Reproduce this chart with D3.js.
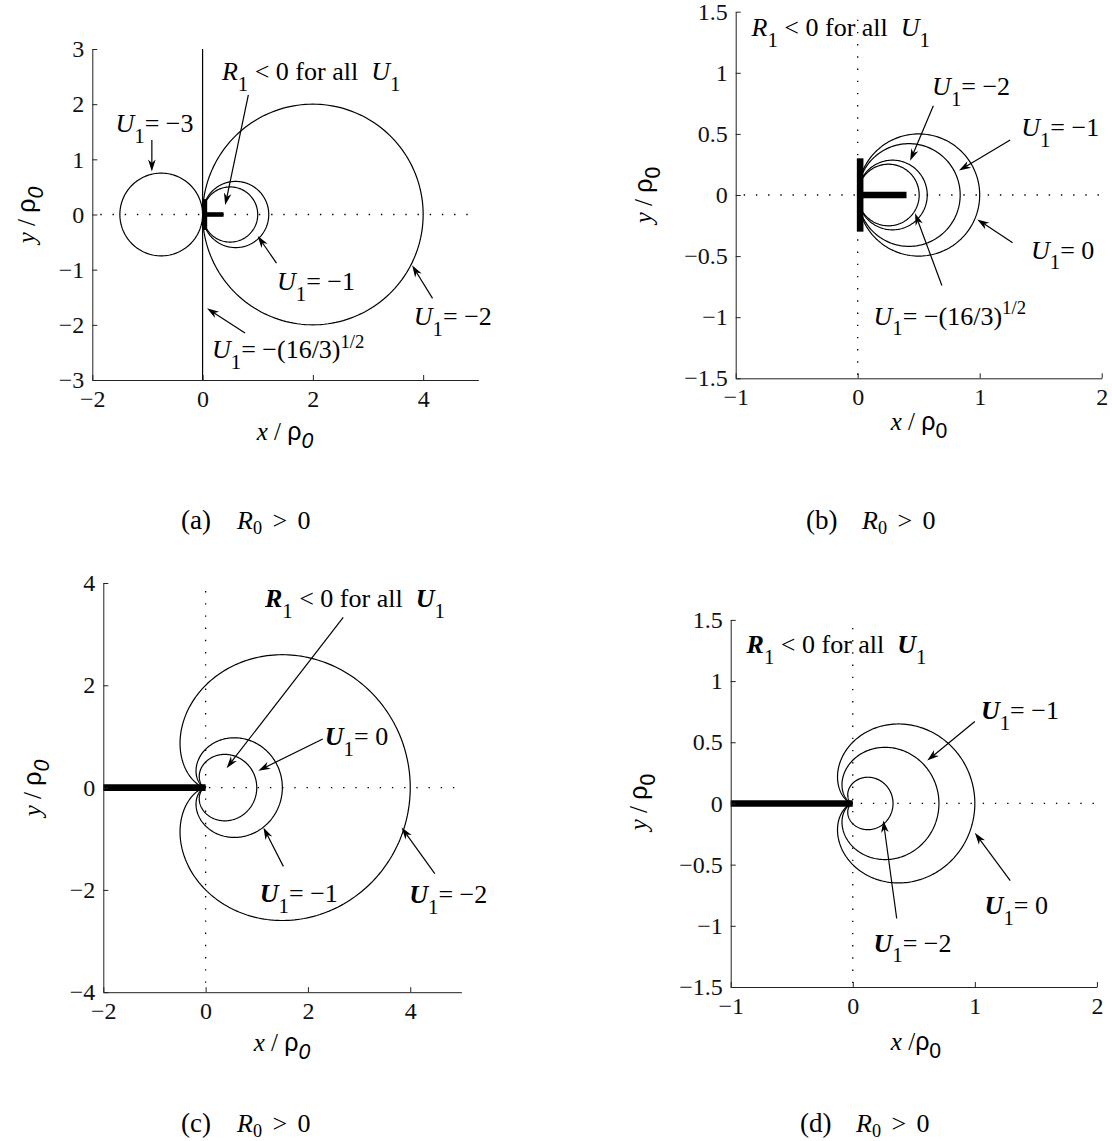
<!DOCTYPE html>
<html><head><meta charset="utf-8">
<script src="https://cdn.jsdelivr.net/npm/d3@7"></script>
<style>body{margin:0;background:#fff} svg{display:block} text{font-family:"Liberation Serif","Times New Roman",serif}</style>
</head><body>
<svg id="fig" width="1112" height="1141"></svg>
<script>
// ---------- panel (a): level curves are circles tangent to the y axis ----------
const aXTicks = [-2, 0, 2, 4];
const aYTicks = [-3, -2, -1, 0, 1, 2, 3];
const aCircleCenter = [-0.75, 2, 0.6, 0.5];   // U1 = -3, -2, -1, and the R1 < 0 boundary
const aCircleRadius = [0.75, 2, 0.6, 0.5];
const aLineX = [0];                            // U1 = -(16/3)^(1/2): the circle opens into x = 0
const aStemX = [0.04, 0.04], aStemY = [-0.28, 0.28];
const aBarX = [0, 0.38], aBarY = [0, 0];

// ---------- panel (b) ----------
const bXTicks = [-1, 0, 1, 2];
const bYTicks = [-1.5, -1, -0.5, 0, 0.5, 1, 1.5];
const bCircleCenter = [0.5, 0.42, 0.285, 0.252];  // U1 = 0, -1, -2, -(16/3)^(1/2)
const bCircleRadius = [0.5, 0.42, 0.285, 0.252];
const bStemX = [0.02, 0.02], bStemY = [-0.3, 0.3];
const bBarX = [0, 0.4], bBarY = [0, 0];

// ---------- panel (c): cardioids r = a(1 + cos t) ----------
const cXTicks = [-2, 0, 2, 4];
const cYTicks = [-4, -2, 0, 2, 4];
const cCardioidSize = [0.5, 0.75, 2];         // U1 = 0, -1, -2
const cCutX = [-2, 0], cCutY = [0, 0];

// ---------- panel (d) ----------
const dXTicks = [-1, 0, 1, 2];
const dYTicks = [-1.5, -1, -0.5, 0, 0.5, 1, 1.5];
const dCardioidSize = [0.5, 0.353, 0.165];    // U1 = 0, -1, -2
const dCutX = [-1, 0], dCutY = [0, 0];

const SERIF = '"Liberation Serif","Times New Roman",serif';
const SANS = '"Liberation Sans",Arial,sans-serif';
const svg = d3.select("#fig");
const fmt = d => (d < 0 ? "\u2212" + Math.abs(d) : String(d));
const TICK = 24, ANN = 26, LAB = 25;

function makePanel(xDom, xPix, yDom, yPix) {
  const x = d3.scaleLinear().domain(xDom).range(xPix);
  const y = d3.scaleLinear().domain(yDom).range(yPix);
  return { x, y, g: svg.append("g") };
}

function axes(p, xt, yt) {
  const ax = p.g.append("g").attr("transform", `translate(0,${p.y.range()[0]})`)
    .call(d3.axisBottom(p.x).tickValues(xt).tickFormat(fmt).tickSizeInner(-5).tickSizeOuter(0).tickPadding(10));
  const ay = p.g.append("g").attr("transform", `translate(${p.x.range()[0]},0)`)
    .call(d3.axisLeft(p.y).tickValues(yt).tickFormat(fmt).tickSizeInner(-5).tickSizeOuter(0).tickPadding(8));
  [ax, ay].forEach(a => {
    a.attr("font-family", null).attr("font-size", null);
    a.selectAll("path,line").attr("stroke", "#222").attr("stroke-width", 1);
    a.selectAll("text").style("font-family", SERIF).style("font-size", TICK + "px").attr("fill", "#111");
  });
}

// text built from pieces: kinds are space separated flags
// i = italic, b = bold, g = sans (greek), sub / sup = lowered / raised and smaller
function rich(g, px, py, parts, size, opts = {}) {
  const t = g.append("text").attr("x", px).attr("y", py)
    .style("font-family", SERIF).style("font-size", size + "px").attr("fill", "#000")
    .style("white-space", "pre").attr("text-anchor", opts.anchor || "start");
  if (opts.rotate) t.attr("transform", `rotate(${opts.rotate},${px},${py})`);
  let shift = 0;
  parts.forEach(([s, kind]) => {
    const k = kind.split(" ");
    const sp = t.append("tspan").text(s);
    let target = 0, fs = size;
    if (k.includes("sub")) { target = (opts.subShift || 0.42) * size; fs = (opts.subScale || 0.8) * size; }
    if (k.includes("sup")) { target = -0.42 * size; fs = 0.72 * size; }
    sp.style("font-style", k.includes("i") ? "italic" : "normal");
    sp.style("font-weight", k.includes("b") ? "bold" : "normal");
    if (k.includes("g")) sp.style("font-family", SANS);
    sp.attr("dy", target - shift).style("font-size", fs + "px");
    shift = target;
  });
  return t;
}

function arrow(p, x1, y1, x2, y2) {
  const X1 = p.x(x1), Y1 = p.y(y1), X2 = p.x(x2), Y2 = p.y(y2);
  const ang = Math.atan2(Y2 - Y1, X2 - X1);
  const L = 12, W = 3.8, N = 8.5;
  const c = Math.cos(ang), s = Math.sin(ang);
  p.g.append("line").attr("x1", X1).attr("y1", Y1)
    .attr("x2", X2 - N * c).attr("y2", Y2 - N * s)
    .attr("stroke", "#000").attr("stroke-width", 1.2);
  const pts = [
    [X2, Y2],
    [X2 - L * c - W * s, Y2 - L * s + W * c],
    [X2 - N * c, Y2 - N * s],
    [X2 - L * c + W * s, Y2 - L * s - W * c]
  ];
  p.g.append("path").attr("d", "M" + pts.map(q => q.join(",")).join("L") + "Z").attr("fill", "#000");
}

function dotted(p, xs, ys) {
  p.g.append("line").attr("x1", p.x(xs[0])).attr("x2", p.x(xs[1]))
    .attr("y1", p.y(ys[0])).attr("y2", p.y(ys[1]))
    .attr("stroke", "#000").attr("stroke-width", 1.3).attr("stroke-dasharray", "1.4 10.8")
    .attr("stroke-dashoffset", -8);
}

function circles(p, centers, radii) {
  const line = d3.line().x(d => p.x(d[0])).y(d => p.y(d[1]));
  centers.forEach((cx, i) => {
    const r = radii[i];
    const pts = d3.range(0, 361, 2).map(deg => {
      const t = deg * Math.PI / 180;
      return [cx + r * Math.cos(t), r * Math.sin(t)];
    });
    p.g.append("path").attr("d", line(pts)).attr("fill", "none")
      .attr("stroke", "#000").attr("stroke-width", 1.2);
  });
}

function cardioids(p, sizes) {
  const line = d3.line().x(d => p.x(d[0])).y(d => p.y(d[1]));
  sizes.forEach(a => {
    const pts = d3.range(0, 360.5, 1).map(deg => {
      const t = deg * Math.PI / 180, r = a * (1 + Math.cos(t));
      return [r * Math.cos(t), r * Math.sin(t)];
    });
    p.g.append("path").attr("d", line(pts)).attr("fill", "none")
      .attr("stroke", "#000").attr("stroke-width", 1.2);
  });
}

function thick(p, xs, ys, w) {
  p.g.append("line").attr("x1", p.x(xs[0])).attr("x2", p.x(xs[1]))
    .attr("y1", p.y(ys[0])).attr("y2", p.y(ys[1]))
    .attr("stroke", "#000").attr("stroke-width", w);
}

const R1 = b => [["R", b ? "i b" : "i"], ["1", "sub"], [" < 0 for all  ", "n"], ["U", b ? "i b" : "i"], ["1", "sub"]];
const U = (v, b) => [["U", b ? "i b" : "i"], ["1", "sub"], ["= " + v, "n"]];
const Uroot = [["U", "i"], ["1", "sub"], ["= \u2212(16/3)", "n"], ["1/2", "sup"]];
const yLab = it => [["y", "i"], [" / ", "n"], ["\u03c1", "g"], ["0", it ? "g sub i" : "g sub"]];
const xLab = (it, sp) => [["x", "i"], [sp ? " / " : " /", "n"], ["\u03c1", "g"], ["0", it ? "g sub i" : "g sub"]];
const labOpts = { anchor: "middle", subShift: 0.3, subScale: 0.85 };

// ===== (a) =====
const A = makePanel([-2, 5], [92.3, 478.3], [-3, 3], [380, 49]);
dotted(A, [-2, 5], [0, 0]);
A.g.append("line").attr("x1", A.x(aLineX[0])).attr("x2", A.x(aLineX[0]))
  .attr("y1", A.y(-3)).attr("y2", A.y(3)).attr("stroke", "#000").attr("stroke-width", 1.2);
circles(A, aCircleCenter, aCircleRadius);
thick(A, aStemX, aStemY, 4.8);
thick(A, aBarX, aBarY, 4.6);
axes(A, aXTicks, aYTicks);
rich(A.g, A.x(0.35), A.y(2.44), R1(false), ANN);
arrow(A, 0.83, 2.17, 0.41, 0.17);
rich(A.g, A.x(-1.58), A.y(1.5), U("\u22123"), ANN);
arrow(A, -0.92, 1.35, -0.92, 0.78);
rich(A.g, A.x(1.35), A.y(-1.37), U("\u22121"), ANN);
arrow(A, 1.34, -0.88, 1.0, -0.39);
rich(A.g, A.x(3.83), A.y(-2.0), U("\u22122"), ANN);
arrow(A, 4.17, -1.52, 3.8, -0.92);
rich(A.g, A.x(0.17), A.y(-2.61), Uroot, ANN);
arrow(A, 0.77, -2.15, 0.08, -1.7);
rich(A.g, 35, 215, yLab(true), LAB, { ...labOpts, rotate: -90 });
rich(A.g, 285, 440, xLab(true, true), LAB, labOpts);

// ===== (b) =====
const B = makePanel([-1, 2], [735.7, 1101.7], [-1.5, 1.5], [378.3, 11.7]);
dotted(B, [-1, 2], [0, 0]);
dotted(B, [0, 0], [1.5, -1.5]);
circles(B, bCircleCenter, bCircleRadius);
thick(B, bStemX, bStemY, 6.6);
thick(B, bBarX, bBarY, 6.6);
axes(B, bXTicks, bYTicks);
rich(B.g, B.x(-0.87), B.y(1.3), R1(false), ANN);
rich(B.g, B.x(0.61), B.y(0.82), U("\u22122"), ANN);
arrow(B, 0.62, 0.73, 0.43, 0.28);
rich(B.g, B.x(1.34), B.y(0.48), U("\u22121"), ANN);
arrow(B, 1.25, 0.45, 0.83, 0.2);
rich(B.g, B.x(1.42), B.y(-0.52), U("0"), ANN);
arrow(B, 1.27, -0.39, 0.98, -0.2);
rich(B.g, B.x(0.13), B.y(-1.06), Uroot, ANN);
arrow(B, 0.69, -0.74, 0.47, -0.15);
rich(B.g, 652, 195, yLab(false), LAB, { ...labOpts, rotate: -90 });
rich(B.g, 919, 430, xLab(false, true), LAB, labOpts);

// ===== (c) =====
const C = makePanel([-2, 5], [103.3, 461.4], [-4, 4], [992.2, 583]);
dotted(C, [-2, 5], [0, 0]);
dotted(C, [0, 0], [4, -4]);
cardioids(C, cCardioidSize);
thick(C, cCutX, cCutY, 6.6);
axes(C, cXTicks, cYTicks);
rich(C.g, C.x(1.16), C.y(3.53), R1(true), ANN);
arrow(C, 2.69, 3.33, 0.41, 0.38);
rich(C.g, C.x(2.33), C.y(0.83), U("0", true), ANN);
arrow(C, 2.29, 0.95, 1.03, 0.33);
rich(C.g, C.x(1.06), C.y(-2.23), U("\u22121", true), ANN);
arrow(C, 1.52, -1.54, 1.13, -0.78);
rich(C.g, C.x(3.98), C.y(-2.26), U("\u22122", true), ANN);
arrow(C, 4.48, -1.68, 3.83, -0.78);
rich(C.g, 41, 788, yLab(true), LAB, { ...labOpts, rotate: -90 });
rich(C.g, 282, 1051, xLab(true, true), LAB, labOpts);

// ===== (d) =====
const D = makePanel([-1, 2], [730.7, 1096.9], [-1.5, 1.5], [987, 619.9]);
dotted(D, [-1, 2], [0, 0]);
dotted(D, [0, 0], [1.5, -1.5]);
cardioids(D, dCardioidSize);
thick(D, dCutX, dCutY, 6.6);
axes(D, dXTicks, dYTicks);
rich(D.g, D.x(-0.87), D.y(1.23), R1(true), ANN);
rich(D.g, D.x(1.05), D.y(0.69), U("\u22121", true), ANN);
arrow(D, 1.0, 0.67, 0.61, 0.35);
rich(D.g, D.x(1.08), D.y(-0.9), U("0", true), ANN);
arrow(D, 1.29, -0.63, 1.0, -0.24);
rich(D.g, D.x(0.17), D.y(-1.21), U("\u22122", true), ANN);
arrow(D, 0.36, -0.94, 0.25, -0.14);
rich(D.g, 647, 802, yLab(false), LAB, { ...labOpts, rotate: -90 });
rich(D.g, 916, 1050, xLab(false, false), LAB, labOpts);

// ===== sub-figure captions: tag, then the condition set a little apart =====
const capG = svg.append("g");
[["a", 181, 529], ["b", 806, 529], ["c", 181, 1132], ["d", 800, 1132]].forEach(([t, x, y]) => {
  rich(capG, x, y, [["(" + t + ")", "n"]], 27);
  rich(capG, x + 56, y, [["R", "i"], ["0", "sub"], ["\u2009\u2009>\u2009\u20090", "n"]], 26,
    { subShift: 0.18, subScale: 0.7 });
});
</script>
</body></html>
